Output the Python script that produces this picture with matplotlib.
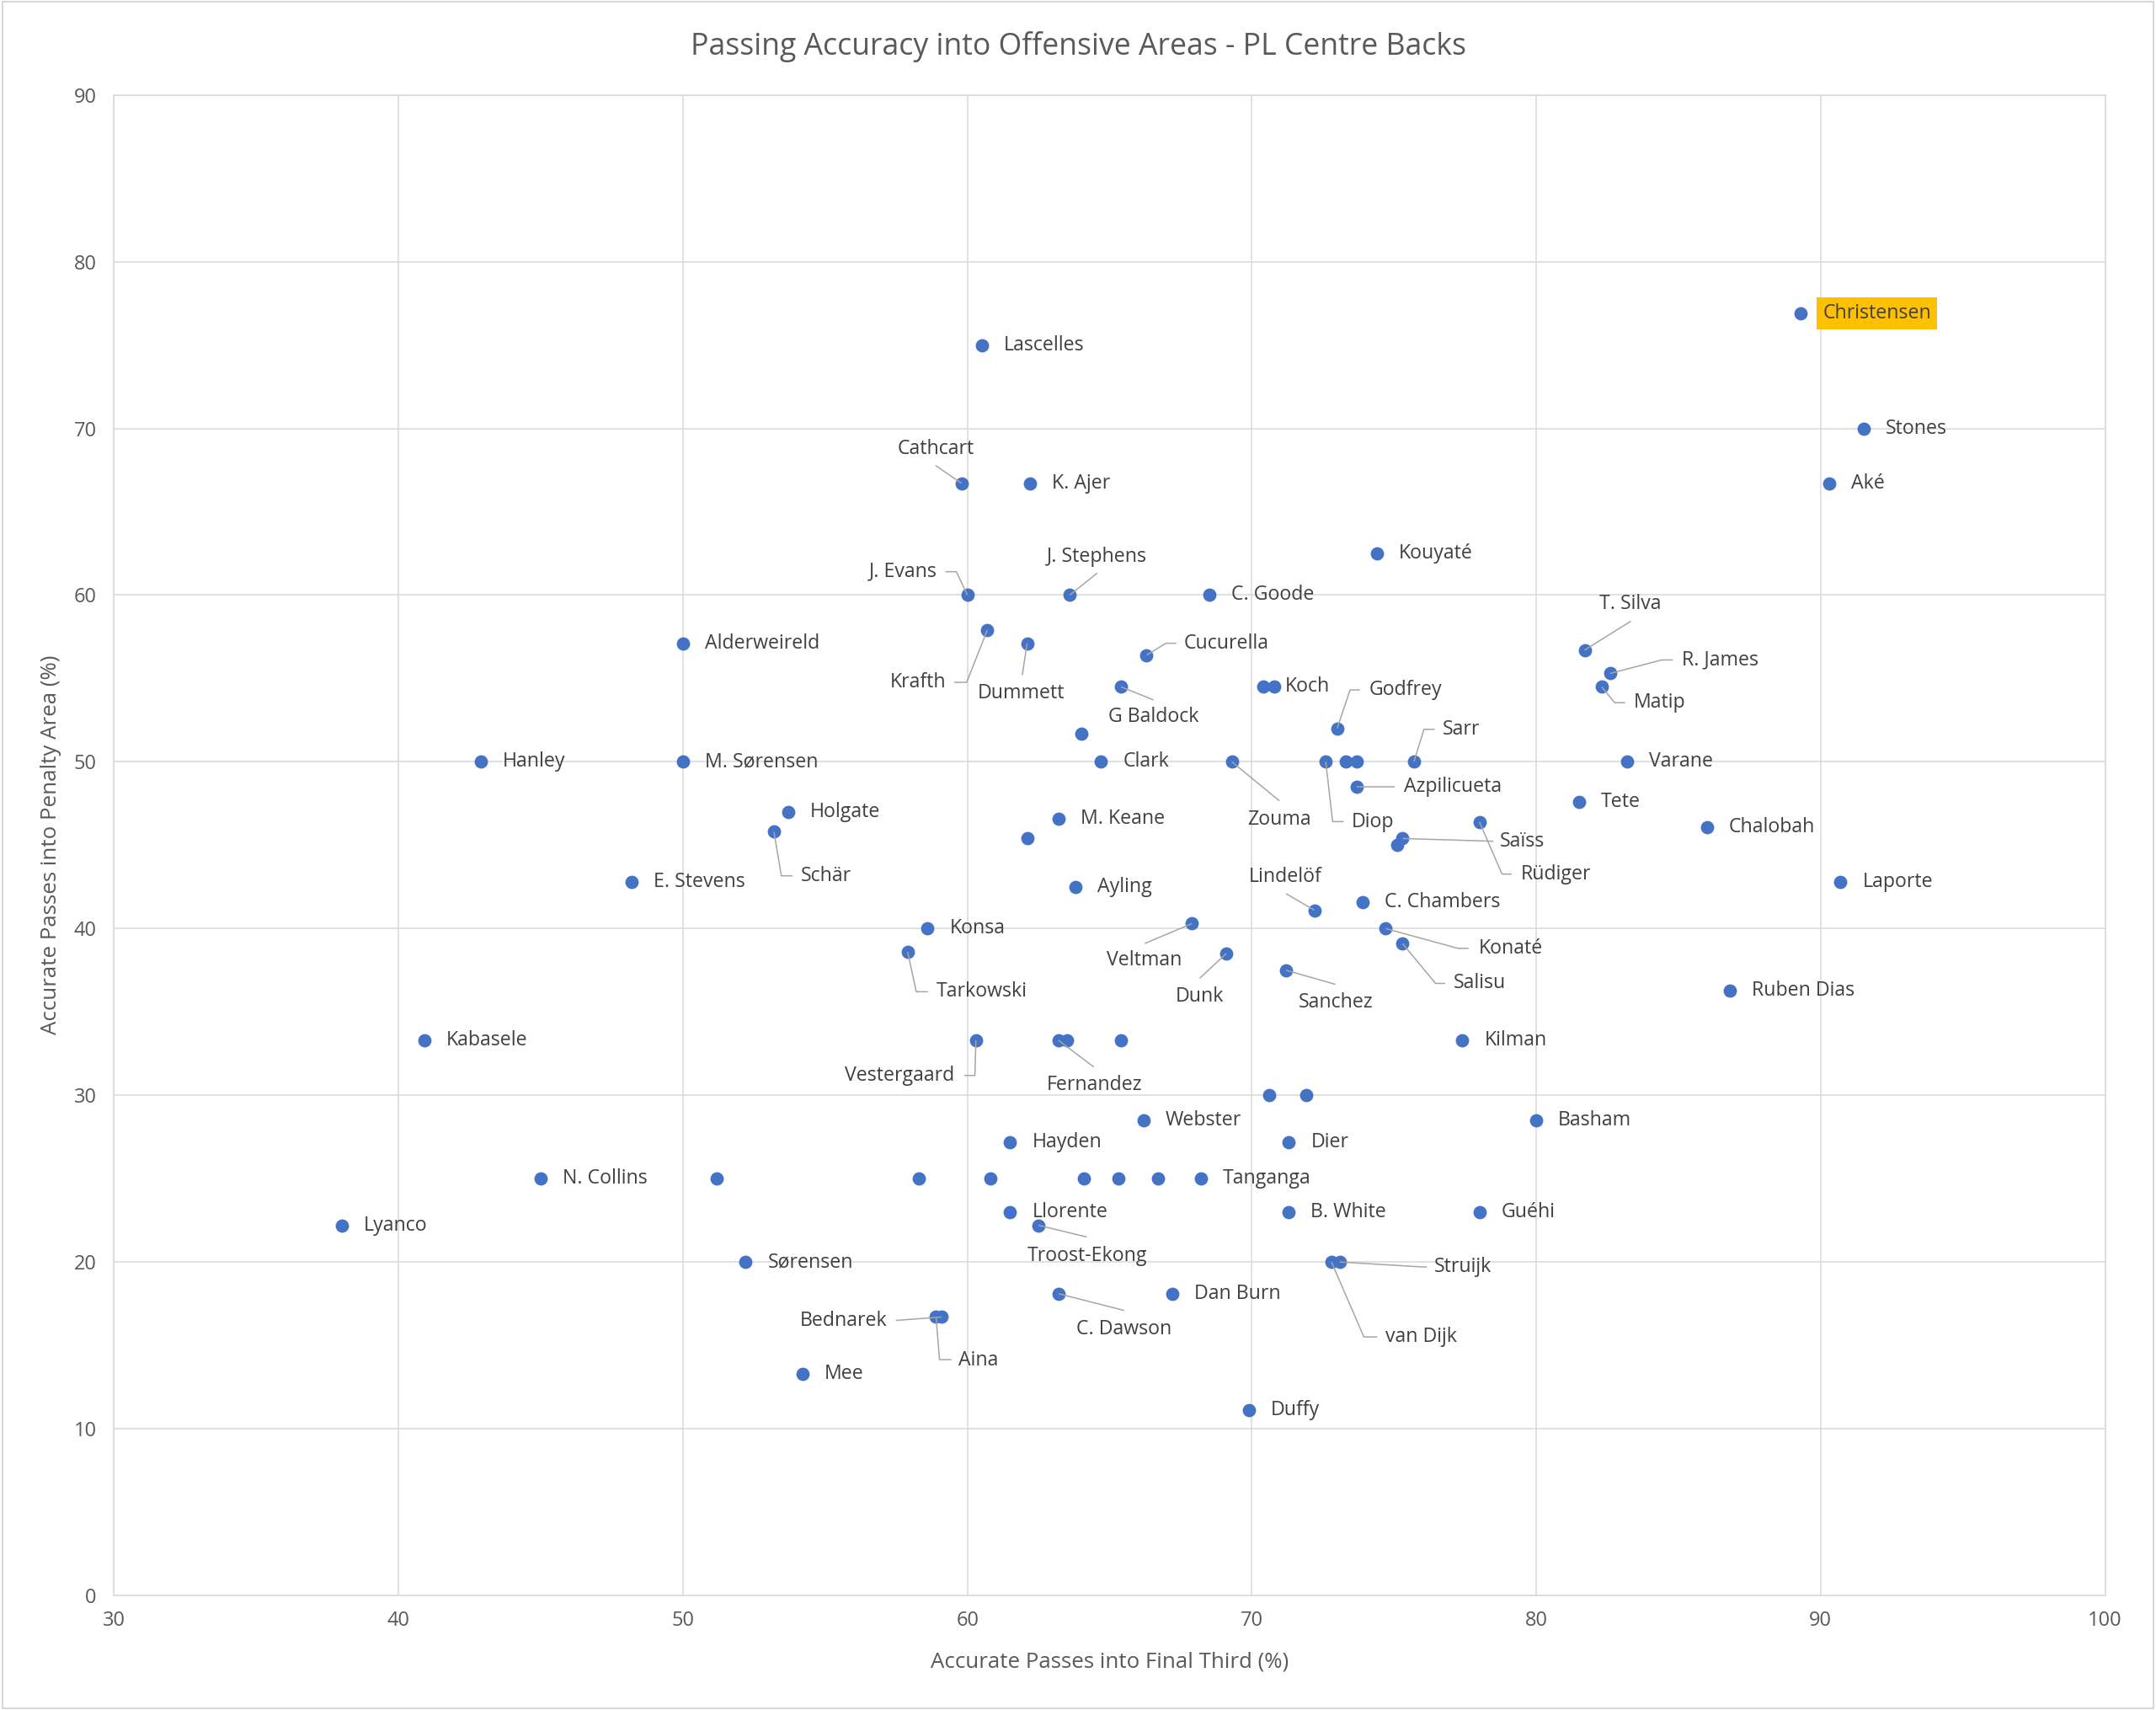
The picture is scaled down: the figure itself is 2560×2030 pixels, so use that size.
import matplotlib.pyplot as plt
import matplotlib.transforms as mtransforms
from matplotlib.patches import Rectangle

# --- data: accurate passes into final third (x) vs into penalty area (y), in % ---
players = [
    'Christensen', 'Stones', 'Aké', 'Lascelles', 'Cathcart', 'K. Ajer', 'Kouyaté',
    'J. Evans', 'J. Stephens', 'C. Goode', 'T. Silva', 'R. James', 'Matip',
    'Alderweireld', 'Krafth', 'Dummett', 'Cucurella', 'G Baldock', 'Koch', '',
    'Godfrey', '', 'Hanley', 'M. Sørensen', 'Clark', 'Zouma', 'Diop', '', '',
    'Sarr', 'Varane', 'Azpilicueta', 'Holgate', 'Tete', 'Schär', 'M. Keane', '',
    'Saïss', '', 'Rüdiger', 'Chalobah', 'E. Stevens', 'Ayling', 'Laporte',
    'Lindelöf', 'C. Chambers', 'Konsa', 'Veltman', 'Konaté', 'Tarkowski', 'Dunk',
    'Salisu', 'Sanchez', 'Ruben Dias', 'Kabasele', 'Vestergaard', 'Fernandez', '',
    '', 'Kilman', '', '', 'Webster', 'Basham', 'Hayden', 'Dier', 'N. Collins',
    '', '', '', '', '', '', 'Tanganga', 'Lyanco', 'Llorente', 'Troost-Ekong',
    'B. White', 'Guéhi', 'Sørensen', 'van Dijk', 'Struijk', 'C. Dawson',
    'Dan Burn', 'Aina', 'Bednarek', 'Mee', 'Duffy',
]
final_third = [
    89.3, 91.5, 90.3, 60.5, 59.8, 62.2, 74.4,
    60.0, 63.6, 68.5, 81.7, 82.6, 82.3,
    50.0, 60.7, 62.1, 66.3, 65.4, 70.4, 70.8,
    73.0, 64.0, 42.9, 50.0, 64.7, 69.3, 72.6, 73.3, 73.7,
    75.7, 83.2, 73.7, 53.7, 81.5, 53.2, 63.2, 62.1,
    75.3, 75.1, 78.0, 86.0, 48.2, 63.8, 90.7,
    72.2, 73.9, 58.6, 67.9, 74.7, 57.9, 69.1,
    75.3, 71.2, 86.8, 40.9, 60.3, 63.2, 63.5,
    65.4, 77.4, 70.6, 71.9, 66.2, 80.0, 61.5, 71.3, 45.0,
    51.2, 58.3, 60.8, 64.1, 65.3, 66.7, 68.2, 38.0, 61.5, 62.5,
    71.3, 78.0, 52.2, 72.8, 73.1, 63.2,
    67.2, 58.9, 59.1, 54.2, 69.9,
]
penalty_area = [
    76.9, 70.0, 66.7, 75.0, 66.7, 66.7, 62.5,
    60.0, 60.0, 60.0, 56.7, 55.3, 54.5,
    57.1, 57.9, 57.1, 56.4, 54.5, 54.5, 54.5,
    52.0, 51.7, 50.0, 50.0, 50.0, 50.0, 50.0, 50.0, 50.0,
    50.0, 50.0, 48.5, 47.0, 47.6, 45.8, 46.6, 45.4,
    45.4, 45.0, 46.4, 46.1, 42.8, 42.5, 42.8,
    41.1, 41.6, 40.0, 40.3, 40.0, 38.6, 38.5,
    39.1, 37.5, 36.3, 33.3, 33.3, 33.3, 33.3,
    33.3, 33.3, 30.0, 30.0, 28.5, 28.5, 27.2, 27.2, 25.0,
    25.0, 25.0, 25.0, 25.0, 25.0, 25.0, 25.0, 22.2, 23.0, 22.2,
    23.0, 23.0, 20.0, 20.0, 20.0, 18.1,
    18.1, 16.7, 16.7, 13.3, 11.1,
]
highlight = 'Christensen'

title = 'Passing Accuracy into Offensive Areas - PL Centre Backs'
x_title = 'Accurate Passes into Final Third (%)'
y_title = 'Accurate Passes into Penalty Area (%)'

# --- label layout (reference pixels, right / down from the point) ---
# name: (text offset, alignment, leader line vertices)
LEADERS = {
    'Cathcart': ((-19, -25), 'center', [(0, 0), (-19, -13)]),
    'J. Evans': ((-22, -17), 'right', [(0, 0), (-8, -17), (-16, -17)]),
    'J. Stephens': ((20, -28), 'center', [(0, 0), (20, -16)]),
    'Krafth': ((-30, 38), 'right', [(0, 0), (-15, 38), (-24, 38)]),
    'Dummett': ((-4.5, 36), 'center', [(0, 0), (-3.5, 23)]),
    'Cucurella': ((27, -8.6), 'left', [(0, 0), (14, -8.6), (21.7, -8.6)]),
    'G Baldock': ((23.5, 22), 'center', [(0, 0), (23.7, 9.6)]),
    'Godfrey': ((23, -28), 'left', [(0, 0), (9.4, -28), (16.6, -28)]),
    'Sarr': ((21, -23.6), 'left', [(0, 0), (7.3, -23.6), (15.1, -23.6)]),
    'Zouma': ((34.5, 42), 'center', [(0, 0), (34.6, 28.4)]),
    'Diop': ((19, 44), 'left', [(0, 0), (5, 43.5), (13, 43.5)]),
    'Azpilicueta': ((34, 0), 'left', [(0, 0), (27.5, 0)]),
    'Saïss': ((71, 2), 'left', [(0, 0), (66, 2)]),
    'Rüdiger': ((30, 38), 'left', [(0, 0), (16.5, 38), (23.5, 38)]),
    'Schär': ((19.4, 32), 'left', [(0, 0), (5.4, 32), (13.4, 32)]),
    'Lindelöf': ((-21, -24), 'center', [(0, 0), (-20.5, -12)]),
    'Veltman': ((-35, 27), 'center', [(0, 0), (-34.4, 14.5)]),
    'Tarkowski': ((21, 29), 'left', [(0, 0), (6.3, 29), (14.7, 29)]),
    'Dunk': ((-19.5, 31), 'center', [(0, 0), (-19.3, 18)]),
    'Sanchez': ((36.5, 23.5), 'center', [(0, 0), (36, 10.3)]),
    'Konaté': ((67.5, 14.4), 'left', [(0, 0), (52.7, 14.4), (60.4, 14.4)]),
    'Salisu': ((37, 29), 'left', [(0, 0), (24, 29), (31, 29)]),
    'Vestergaard': ((-15.4, 25.6), 'right', [(0, 0), (-0.7, 25.6), (-8.4, 25.6)]),
    'Fernandez': ((26.4, 32.6), 'center', [(0, 0), (25.7, 19.4)]),
    'Troost-Ekong': ((35.5, 22.4), 'center', [(0, 0), (35.1, 8.5)]),
    'C. Dawson': ((47.5, 26), 'center', [(0, 0), (47.8, 12.2)]),
    'Bednarek': ((-39.4, 2.5), 'right', [(0, 0), (-33.4, 2.5)]),
    'Aina': ((16.5, 31.5), 'left', [(0, 0), (2.5, 31), (11.2, 31)]),
    'Struijk': ((68.5, 3.7), 'left', [(0, 0), (58, 3.5), (63.3, 3.7)]),
    'van Dijk': ((39.4, 54.5), 'left', [(0, 0), (23.6, 54.5), (33.4, 54.5)]),
    'T. Silva': ((33, -33.4), 'center', [(0, 0), (33.6, -21)]),
    'R. James': ((52, -9.8), 'left', [(0, 0), (37.4, -9.8), (45.6, -9.8)]),
    'Matip': ((23, 11.6), 'left', [(0, 0), (9.5, 11.6), (17, 11.6)]),
}

DPI = 100
REF = 2560 / 1568  # reference px -> output px

plt.rcParams['font.family'] = ['Open Sans', 'DejaVu Sans']

fig = plt.figure(figsize=(25.6, 20.3), dpi=DPI)
ax = fig.add_axes([0.0529, 0.0670, 0.9235, 0.8775])

ax.set_xlim(30, 100)
ax.set_ylim(0, 90)
ax.set_xticks(range(30, 101, 10))
ax.set_yticks(range(0, 91, 10))
ax.grid(True, color='#D9D9D9', linewidth=1.1)
ax.set_axisbelow(True)
for s in ax.spines.values():
    s.set_color('#D9D9D9')
    s.set_linewidth(1.1)
ax.tick_params(length=0, labelsize=17, colors='#595959')
ax.tick_params(axis='x', pad=13)
ax.tick_params(axis='y', pad=15)

ax.scatter(final_third, penalty_area, s=130, color='#4472C4', zorder=2,
           linewidths=0)


def local(x, y):
    # offsets in reference pixels (y down) around a data point
    return (mtransforms.Affine2D().scale(REF / DPI, -REF / DPI)
            + fig.dpi_scale_trans
            + mtransforms.ScaledTranslation(x, y, ax.transData))


label_kw = dict(fontsize=16.7, color='#404040', va='center', clip_on=False, zorder=4)
for name, x, y in zip(players, final_third, penalty_area):
    if not name:
        continue
    tr = local(x, y)
    if name in LEADERS:
        (tx, ty), ha, path = LEADERS[name]
        xs, ys = zip(*path)
        ax.plot(xs, ys, transform=tr, color='#A6A6A6', lw=1.1, zorder=3,
                clip_on=False, solid_capstyle='butt')
        ax.text(tx, ty, name, transform=tr, ha=ha, **label_kw)
    elif name == highlight:
        ax.text(16, 0, name, transform=tr, ha='left',
                bbox=dict(boxstyle='square,pad=0.3', fc='#FFC000', ec='none'),
                **label_kw)
    else:
        ax.text(16, 0, name, transform=tr, ha='left', **label_kw)

fig.text(0.5, 0.9729, title, ha='center', va='center', fontsize=25.7, color='#595959')
fig.text(0.5147, 0.0279, x_title, ha='center', va='center', fontsize=18.6, color='#595959')
fig.text(0.0236, 0.5058, y_title, ha='center', va='center', rotation=90,
         fontsize=18.6, color='#595959')

fig.patches.append(Rectangle((0.001, 0.001), 0.998, 0.998, transform=fig.transFigure,
                             fill=False, ec='#D9D9D9', lw=1.5))

fig.savefig('out.png', dpi=DPI, facecolor='white')
